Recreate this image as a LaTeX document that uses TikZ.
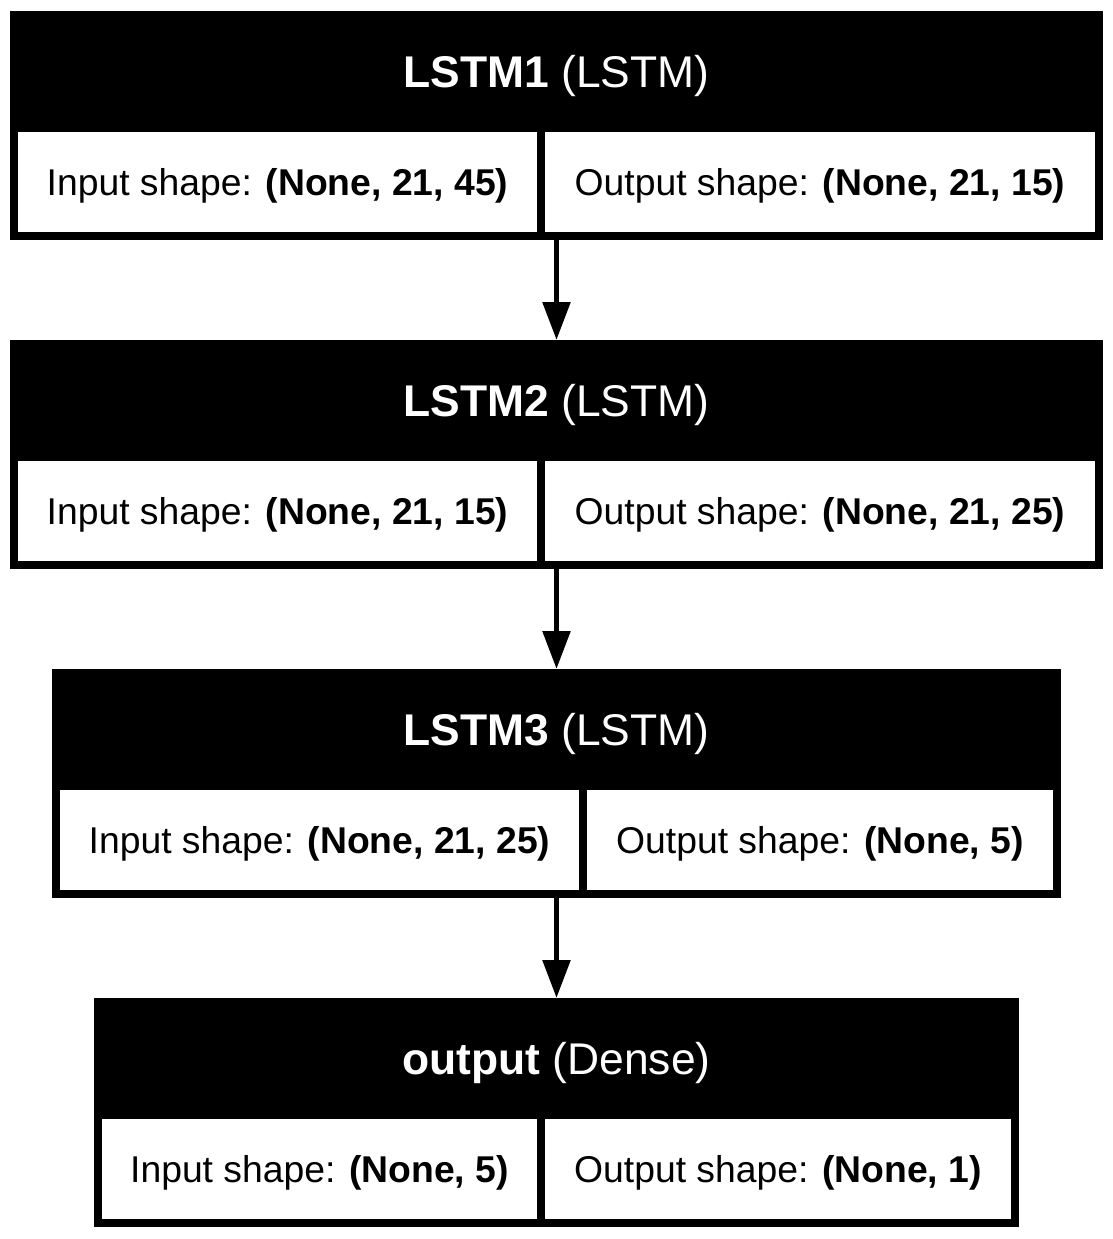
\documentclass[tikz,border=0pt]{standalone}
\usepackage{fontspec}
\setmainfont{Liberation Sans}
\usetikzlibrary{arrows.meta}
\tikzset{
  layerbox/.style={rectangle, fill=black, draw=none, inner sep=0pt, outer sep=0pt, minimum height=229pt},
  cellbox/.style={rectangle, fill=white, draw=none, inner sep=0pt, outer sep=0pt, minimum height=100pt},
  celltext/.style={anchor=base, inner sep=0pt, font=\fontsize{37.3}{40}\selectfont},
  headtext/.style={anchor=base, inner sep=0pt, text=white, font=\fontsize{44.4}{47}\selectfont},
  flow/.style={line width=5.6pt, -{Triangle[width=27pt,length=38pt]}}
}
\begin{document}
\begin{tikzpicture}[x=1pt,y=-1pt]
\useasboundingbox (0,0) rectangle (1113,1239);
% ---------- LSTM1 (top 11) ----------
\node[layerbox, minimum width=1093pt] (l1) at (556.5,125.5) {};
\node[headtext] (l1h) at (556.5,87) {\textbf{LSTM1} (LSTM)};
\node[cellbox, minimum width=519pt] (l1i) at (277.5,182) {};
\node[cellbox, minimum width=550pt] (l1o) at (820,182) {};
\node[celltext] (l1it) at (l1i.center) [yshift=-13.4pt] {Input shape: \textbf{(None, 21, 45)}};
\node[celltext] (l1ot) at (l1o.center) [yshift=-13.4pt] {Output shape: \textbf{(None, 21, 15)}};
% ---------- LSTM2 (top 340) ----------
\node[layerbox, minimum width=1093pt] (l2) at (556.5,454.5) {};
\node[headtext] (l2h) at (556.5,416) {\textbf{LSTM2} (LSTM)};
\node[cellbox, minimum width=519pt] (l2i) at (277.5,511) {};
\node[cellbox, minimum width=550pt] (l2o) at (820,511) {};
\node[celltext] (l2it) at (l2i.center) [yshift=-13.4pt] {Input shape: \textbf{(None, 21, 15)}};
\node[celltext] (l2ot) at (l2o.center) [yshift=-13.4pt] {Output shape: \textbf{(None, 21, 25)}};
% ---------- LSTM3 (top 669) ----------
\node[layerbox, minimum width=1009pt] (l3) at (556.5,783.5) {};
\node[headtext] (l3h) at (556.5,745) {\textbf{LSTM3} (LSTM)};
\node[cellbox, minimum width=519pt] (l3i) at (319.5,840) {};
\node[cellbox, minimum width=466pt] (l3o) at (820,840) {};
\node[celltext] (l3it) at (l3i.center) [yshift=-13.4pt] {Input shape: \textbf{(None, 21, 25)}};
\node[celltext] (l3ot) at (l3o.center) [yshift=-13.4pt] {Output shape: \textbf{(None, 5)}};
% ---------- output (top 998) ----------
\node[layerbox, minimum width=925pt] (l4) at (556.5,1112.5) {};
\node[headtext] (l4h) at (556.5,1074) {\textbf{output} (Dense)};
\node[cellbox, minimum width=435pt] (l4i) at (319.5,1169) {};
\node[cellbox, minimum width=466pt] (l4o) at (778,1169) {};
\node[celltext] (l4it) at (l4i.center) [yshift=-13.4pt] {Input shape: \textbf{(None, 5)}};
\node[celltext] (l4ot) at (l4o.center) [yshift=-13.4pt] {Output shape: \textbf{(None, 1)}};
% ---------- connectors ----------
\draw[flow] (l1.south) -- (l2.north);
\draw[flow] (l2.south) -- (l3.north);
\draw[flow] (l3.south) -- (l4.north);
\end{tikzpicture}
\end{document}
